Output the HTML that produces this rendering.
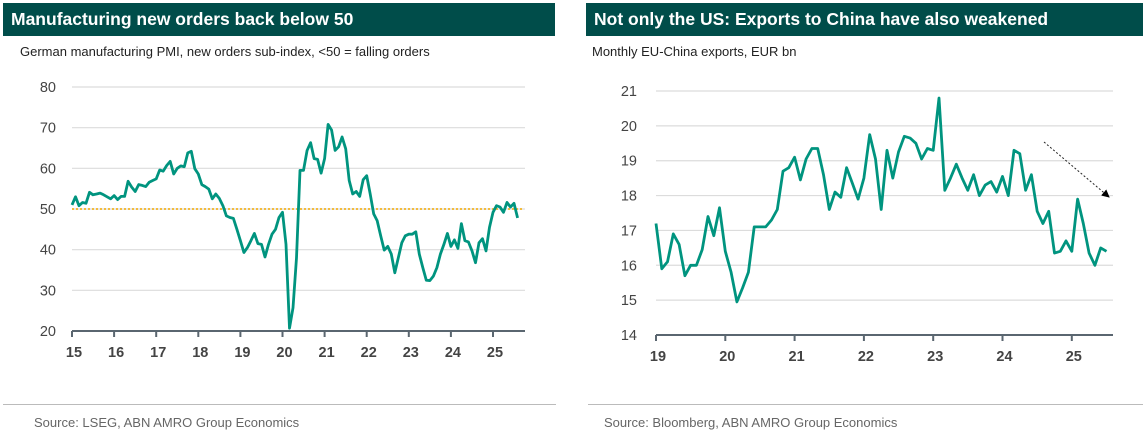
<!DOCTYPE html>
<html><head><meta charset="utf-8">
<style>
body{margin:0;width:1146px;height:436px;background:#fff;font-family:"Liberation Sans",sans-serif;overflow:hidden;position:relative}
.bar{position:absolute;top:3px;height:33px;background:#004d4a;color:#fff;font-weight:bold;font-size:17.5px;line-height:33px;padding-left:8px;box-sizing:border-box}
.sub{position:absolute;top:44px;font-size:13px;color:#222}
.src{position:absolute;top:415px;font-size:13px;color:#666}
.rule{position:absolute;top:404px;height:1px;background:#bbb}
svg{position:absolute;left:0;top:0}
</style></head><body>
<div class="bar" style="left:3px;width:552px">Manufacturing new orders back below 50</div>
<div class="bar" style="left:586px;width:557px">Not only the US: Exports to China have also weakened</div>
<div class="sub" style="left:20px">German manufacturing PMI, new orders sub-index, &lt;50 = falling orders</div>
<div class="sub" style="left:592px">Monthly EU-China exports, EUR bn</div>
<div class="rule" style="left:3px;width:553px"></div>
<div class="rule" style="left:588px;width:555px"></div>
<div class="src" style="left:34px">Source: LSEG, ABN AMRO Group Economics</div>
<div class="src" style="left:604px">Source: Bloomberg, ABN AMRO Group Economics</div>
<svg id="c" width="1146" height="436"></svg>
<script>
const pmiYears=["15","16","17","18","19","20","21","22","23","24","25"];
const pmiTicks=[20,30,40,50,60,70,80];
const pmiValues=[51,53,50.8,51.6,51.4,54.1,53.5,53.7,53.9,53.5,53,52.5,
53.3,52.3,53.1,53.1,56.8,55.4,54.3,56,55.8,55.5,56.6,57,
57.4,59.6,59.3,60.7,61.7,58.6,60,60.6,60.4,63.8,64.2,59.9,
58.6,56,55.5,54.9,52.5,53.7,52.6,50.8,48.3,47.9,47.7,45,
42.2,39.3,40.5,42.2,44,41.5,41.3,38.2,41.3,43.8,45,47.9,
49.2,41.3,20.7,25.7,38,59.5,59.5,64.4,66.3,62.4,62.2,58.8,
62.4,70.8,69.4,64.4,65.3,67.7,64.8,57,53.7,54.3,53.1,57.2,
58.2,53.7,48.8,47.1,43.4,39.9,40.8,38.9,34.3,38,41.7,43.4,
43.8,43.8,44.4,38.9,35.6,32.5,32.4,33.5,35.6,38.9,41.3,44,
40.8,42.4,40.3,46.4,42.2,41.9,39.7,36.8,41.7,42.7,39.7,45.5,
49.2,50.8,50.5,49.2,51.6,50.5,51.4,47.8];
const pmiThreshold=50;
const expYears=["19","20","21","22","23","24","25"];
const expTicks=[14,15,16,17,18,19,20,21];
const expValues=[17.2,15.9,16.1,16.9,16.6,15.7,16,16,16.45,17.4,16.85,17.65,
16.4,15.8,14.95,15.35,15.8,17.1,17.1,17.1,17.3,17.6,18.7,18.8,
19.1,18.45,19.05,19.35,19.35,18.6,17.6,18.1,17.95,18.8,18.35,17.9,
18.5,19.75,19.05,17.6,19.3,18.5,19.25,19.7,19.65,19.5,19.05,19.35,
19.3,20.8,18.15,18.5,18.9,18.5,18.15,18.6,18,18.3,18.4,18.1,
18.55,18,19.3,19.2,18.15,18.6,17.55,17.2,17.55,16.35,16.4,16.7,
16.4,17.9,17.2,16.35,16,16.5,16.4];

const svg=document.getElementById('c');const NS='http://www.w3.org/2000/svg';
function mk(t,a,txt){const e=document.createElementNS(NS,t);for(const k in a)e.setAttribute(k,a[k]);if(txt!=null)e.textContent=txt;svg.appendChild(e);return e;}

function chart(o){
  const y=v=>o.y0+(v-o.vmin)*(o.y1-o.y0)/(o.vmax-o.vmin);
  const x=i=>o.x0+i*o.yearW/12;
  o.ticks.forEach(t=>{
    if(t!==o.vmin){const g=mk('line',{x1:o.x0,x2:o.xr,y1:y(t),y2:y(t),stroke:'#dcdcdc','stroke-width':1.2});
    }
    const l=mk('text',{x:o.lx,y:y(t)+5,'text-anchor':'end','font-size':14.5,fill:'#444'},t);
    
  });
  const ax=mk('line',{x1:o.x0,x2:o.xr,y1:y(o.vmin),y2:y(o.vmin),stroke:'#5a6670','stroke-width':2});
  
  o.years.forEach((yr,k)=>{
    const xx=o.x0+k*o.yearW;
    const tk=mk('line',{x1:xx,x2:xx,y1:y(o.vmin),y2:y(o.vmin)+6,stroke:'#5a6670','stroke-width':2});
    
    const l=mk('text',{x:xx+2,y:y(o.vmin)+26,'text-anchor':'middle','font-size':14.5,'font-weight':'bold',fill:'#444'},yr);
    
  });
  if(o.thr!=null){const t=mk('line',{x1:o.x0,x2:o.xr-3,y1:y(o.thr),y2:y(o.thr),stroke:'#f2a900','stroke-width':1.5,'stroke-dasharray':'2,2'});
  }
  const d=o.vals.map((v,i)=>(i?'L':'M')+x(i).toFixed(1)+','+y(v).toFixed(1)).join('');
  const p=mk('path',{d:d,fill:'none',stroke:'#00947f','stroke-width':2.8,'stroke-linejoin':'round'});
  
}
chart({p:'pmi',x0:72,xr:525,yearW:42.1,y0:331,y1:87,vmin:20,vmax:80,ticks:pmiTicks,years:pmiYears,vals:pmiValues,lx:56,thr:pmiThreshold});
chart({p:'exports',x0:656,xr:1113,yearW:69.3,y0:335,y1:91,vmin:14,vmax:21,ticks:expTicks,years:expYears,vals:expValues,lx:637,thr:null});
const defs=mk('defs',{});
const m=document.createElementNS(NS,'marker');m.setAttribute('id','ah');m.setAttribute('markerWidth','8');m.setAttribute('markerHeight','8');m.setAttribute('refX','7');m.setAttribute('refY','4');m.setAttribute('orient','auto');
const mp=document.createElementNS(NS,'path');mp.setAttribute('d','M0,0L8,4L0,8z');mp.setAttribute('fill','#000');m.appendChild(mp);defs.appendChild(m);
const ar=mk('line',{x1:1044,y1:142,x2:1109,y2:197,stroke:'#222','stroke-width':1,'stroke-dasharray':'2,2','marker-end':'url(#ah)'});

</script>
</body></html>
